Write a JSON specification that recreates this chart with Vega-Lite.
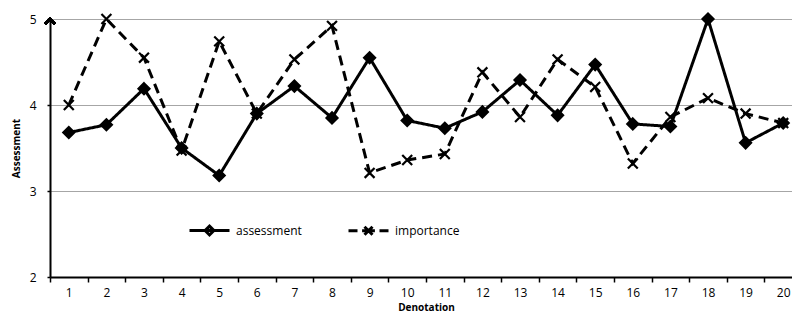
{
  "$schema": "https://vega.github.io/schema/vega-lite/v6.json",
  "width": 752,
  "height": 258,
  "autosize": {"type": "none"},
  "padding": {"left": 50, "top": 19, "right": 0, "bottom": 41},
  "background": "white",
  "config": {
    "font": "Open Sans",
    "view": {"stroke": null},
    "axis": {"labelFont": "Open Sans", "titleFont": "Open Sans", "labelColor": "black", "titleColor": "black"}
  },
  "data": {
    "values": [
      {"d": 1, "series": "assessment", "v": 3.68},
      {"d": 2, "series": "assessment", "v": 3.77},
      {"d": 3, "series": "assessment", "v": 4.19},
      {"d": 4, "series": "assessment", "v": 3.50},
      {"d": 5, "series": "assessment", "v": 3.18},
      {"d": 6, "series": "assessment", "v": 3.90},
      {"d": 7, "series": "assessment", "v": 4.22},
      {"d": 8, "series": "assessment", "v": 3.85},
      {"d": 9, "series": "assessment", "v": 4.55},
      {"d": 10, "series": "assessment", "v": 3.82},
      {"d": 11, "series": "assessment", "v": 3.73},
      {"d": 12, "series": "assessment", "v": 3.92},
      {"d": 13, "series": "assessment", "v": 4.29},
      {"d": 14, "series": "assessment", "v": 3.88},
      {"d": 15, "series": "assessment", "v": 4.47},
      {"d": 16, "series": "assessment", "v": 3.78},
      {"d": 17, "series": "assessment", "v": 3.75},
      {"d": 18, "series": "assessment", "v": 5.0},
      {"d": 19, "series": "assessment", "v": 3.56},
      {"d": 20, "series": "assessment", "v": 3.79},
      {"d": 1, "series": "importance", "v": 4.0},
      {"d": 2, "series": "importance", "v": 5.0},
      {"d": 3, "series": "importance", "v": 4.55},
      {"d": 4, "series": "importance", "v": 3.47},
      {"d": 5, "series": "importance", "v": 4.74},
      {"d": 6, "series": "importance", "v": 3.9},
      {"d": 7, "series": "importance", "v": 4.53},
      {"d": 8, "series": "importance", "v": 4.92},
      {"d": 9, "series": "importance", "v": 3.21},
      {"d": 10, "series": "importance", "v": 3.36},
      {"d": 11, "series": "importance", "v": 3.43},
      {"d": 12, "series": "importance", "v": 4.38},
      {"d": 13, "series": "importance", "v": 3.86},
      {"d": 14, "series": "importance", "v": 4.53},
      {"d": 15, "series": "importance", "v": 4.21},
      {"d": 16, "series": "importance", "v": 3.32},
      {"d": 17, "series": "importance", "v": 3.86},
      {"d": 18, "series": "importance", "v": 4.08},
      {"d": 19, "series": "importance", "v": 3.90},
      {"d": 20, "series": "importance", "v": 3.79}
    ]
  },
  "encoding": {
    "x": {
      "field": "d", "type": "ordinal", "bandPosition": 0.5,
      "scale": {"type": "band", "paddingInner": 0, "paddingOuter": 0},
      "axis": {
        "title": "Denotation", "titleFontSize": 10, "titleFontWeight": "bold", "titlePadding": 4,
        "labelAngle": 0, "labelFontSize": 12, "labelPadding": 5,
        "tickBand": "extent", "tickSize": 5, "tickWidth": 1.5, "tickColor": "black",
        "domainColor": "black", "domainWidth": 2, "grid": false
      }
    },
    "y": {
      "field": "v", "type": "quantitative",
      "scale": {"domain": [2, 5], "nice": false, "zero": false},
      "axis": {
        "title": "Assessment", "titleFontSize": 10, "titleFontWeight": "bold", "titlePadding": 8,
        "values": [2, 3, 4, 5], "labelFontSize": 12, "labelPadding": 11,
        "tickSize": 3, "tickColor": "black", "tickWidth": 1.5,
        "domainColor": "black", "domainWidth": 2,
        "grid": true, "gridColor": "#a6a6a6", "gridWidth": 1.2
      }
    }
  },
  "layer": [
    {
      "mark": {"type": "line", "color": "black", "strokeWidth": 3},
      "encoding": {
        "strokeDash": {
          "field": "series", "type": "nominal",
          "scale": {"domain": ["assessment", "importance"], "range": [[1, 0], [10, 6]]},
          "legend": null
        }
      }
    },
    {
      "mark": {"type": "point", "fill": "black", "stroke": "black", "strokeWidth": 2.2, "opacity": 1, "size": 121},
      "encoding": {
        "shape": {
          "field": "series", "type": "nominal",
          "scale": {"domain": ["assessment", "importance"], "range": ["M0,-1L1,0L0,1L-1,0Z", "M-0.9,-0.9L0.9,0.9M-0.9,0.9L0.9,-0.9"]},
          "legend": null
        }
      }
    },
    {
      "mark": {"type": "point", "opacity": 0, "size": 1},
      "encoding": {
        "color": {
          "field": "series", "type": "nominal",
          "scale": {"domain": ["assessment", "importance"], "range": ["black", "black"]},
          "legend": null
        },
        "shape": {
          "field": "series", "type": "nominal",
          "scale": {"domain": ["assessment", "importance"], "range": [
            "M-1,0H1M0,-0.22L0.22,0L0,0.22L-0.22,0Z",
            "M-1,0H-0.55M-0.32,0H0.32M0.55,0H1M-0.2,-0.2L0.2,0.2M-0.2,0.2L0.2,-0.2"
          ]},
          "legend": {
            "title": null, "orient": "none", "legendX": 138, "legendY": 190,
            "direction": "horizontal", "columnPadding": 40,
            "symbolSize": 1600, "symbolOpacity": 1, "symbolFillColor": "black",
            "symbolStrokeColor": "black", "symbolStrokeWidth": 3,
            "labelFont": "Open Sans", "labelFontSize": 12, "labelColor": "black", "labelOffset": 5
          }
        }
      }
    },
    {
      "mark": {"type": "point", "shape": "M-1,1L0,0L1,1", "filled": false, "stroke": "black", "strokeWidth": 2, "size": 100, "opacity": 1},
      "encoding": {
        "x": {"datum": 1, "type": "ordinal", "bandPosition": 0},
        "y": {"datum": 5, "type": "quantitative"}
      }
    }
  ],
  "resolve": {"scale": {"shape": "independent"}}
}
